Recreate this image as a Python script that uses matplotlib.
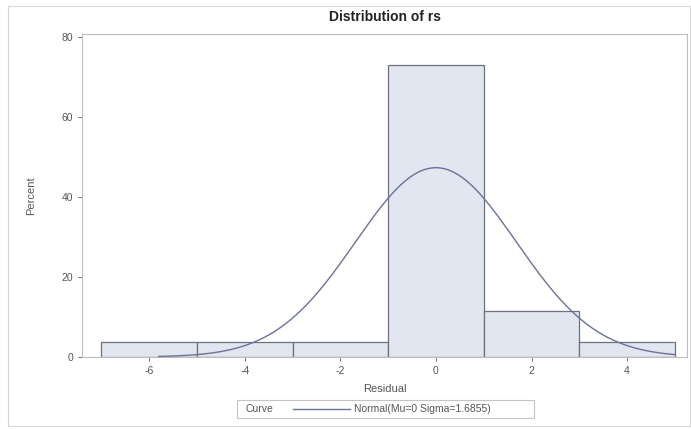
import numpy as np
import matplotlib.pyplot as plt
from matplotlib.patches import Rectangle
from matplotlib.lines import Line2D

plt.rcParams['font.family'] = ['Liberation Sans', 'DejaVu Sans']

# histogram bins (Residual) and percentages
bin_edges = [-7, -5, -3, -1, 1, 3, 5]
percents = [3.85, 3.85, 3.85, 73.08, 11.54, 3.85]

# fitted normal curve parameters
mu = 0.0
sigma = 1.6855
curve_start, curve_end = -5.8, 5.0

xticks = [-6, -4, -2, 0, 2, 4]
yticks = [0, 20, 40, 60, 80]

bar_fill = '#e1e6f0'
bar_edge = '#6d717c'
curve_col = '#6a7296'
text_col = '#555555'

fig = plt.figure(figsize=(6.91, 4.29), dpi=100)
ax = fig.add_axes([0.119, 0.168, 0.875, 0.753])

lefts = np.array(bin_edges[:-1])
widths = np.diff(bin_edges)
ax.bar(lefts, percents, width=widths, align='edge', color=bar_fill,
       edgecolor=bar_edge, linewidth=0.9, zorder=2)

# normal density scaled to percent per bin
bw = widths[0]
xx = np.linspace(curve_start, curve_end, 300)
yy = 100 * bw * np.exp(-0.5 * ((xx - mu) / sigma) ** 2) / (sigma * np.sqrt(2 * np.pi))
ax.plot(xx, yy, color=curve_col, lw=1.0, zorder=3)

ax.set_xlim(-7.4, 5.25)
ax.set_ylim(0, 80.8)
ax.set_xticks(xticks)
ax.set_xticklabels([str(t) for t in xticks])
ax.set_yticks(yticks)
ax.tick_params(axis='both', labelsize=7.5, colors=text_col, length=3, width=0.6)
for s in ax.spines.values():
    s.set_color('#bdbdbd')
    s.set_linewidth(0.8)

ax.set_xlabel('Residual', fontsize=8, color=text_col, labelpad=6)
ax.set_ylabel('Percent', fontsize=8, color=text_col, labelpad=18)
ax.set_title('Distribution of rs', fontsize=10, fontweight='bold', color='#222222', pad=9)

# legend box below the axis
leg = Rectangle((237 / 691, 1 - 418 / 429), (534 - 237) / 691, 18 / 429,
                transform=fig.transFigure, fill=False, edgecolor='#c4c4c4', lw=0.8)
fig.add_artist(leg)
fig.text(245 / 691, 1 - 409 / 429, 'Curve', fontsize=7.5, color=text_col, va='center')
fig.add_artist(Line2D([293 / 691, 350 / 691], [1 - 409 / 429, 1 - 409 / 429],
                      transform=fig.transFigure, color=curve_col, lw=1.0))
fig.text(354 / 691, 1 - 409 / 429, 'Normal(Mu=0 Sigma=1.6855)', fontsize=7.5,
         color=text_col, va='center')

# outer frame
fig.add_artist(Rectangle((8 / 691, 3 / 429), 690 / 691 - 8 / 691, 423 / 429 - 3 / 429,
                         transform=fig.transFigure, fill=False, edgecolor='#d6d6d6', lw=0.8))

fig.savefig('out.png', dpi=100)
